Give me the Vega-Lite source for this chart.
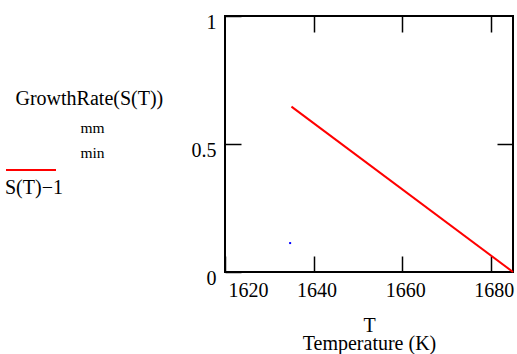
{
  "$schema": "https://vega.github.io/schema/vega-lite/v6.json",
  "width": 288,
  "height": 256,
  "autosize": "none",
  "padding": {"left": 225, "top": 16, "right": 4, "bottom": 82},
  "config": {
    "view": {"stroke": "black", "strokeWidth": 2},
    "font": "Liberation Serif, Times New Roman, serif",
    "axis": {
      "grid": false,
      "domain": false,
      "tickColor": "black",
      "tickWidth": 1.5,
      "tickSize": -16,
      "labelFont": "Liberation Serif, Times New Roman, serif",
      "labelFontSize": 20,
      "labelColor": "black",
      "titleFont": "Liberation Serif, Times New Roman, serif",
      "titleFontWeight": "normal",
      "titleColor": "black"
    }
  },
  "datasets": {
    "growth": [{"T": 1635, "rate": 0.646}, {"T": 1685, "rate": 0}],
    "s": [{"T": 1634.7, "v": 0.113}]
  },
  "resolve": {"axis": {"x": "independent", "y": "independent"}},
  "layer": [
    {
      "data": {"name": "growth"},
      "mark": {"type": "line", "strokeWidth": 2},
      "encoding": {
        "x": {
          "field": "T", "type": "quantitative",
          "scale": {"domain": [1620, 1685], "nice": false, "zero": false},
          "axis": {
            "orient": "bottom", "values": [1620, 1640, 1660, 1680], "format": "d",
            "labelPadding": 24, "labelOffset": 3, "labelBaseline": "top",
            "title": ["T", "Temperature (K)"], "titleFontSize": 20, "titleLineHeight": 18,
            "titleBaseline": "alphabetic", "titleY": 59
          }
        },
        "y": {
          "field": "rate", "type": "quantitative",
          "scale": {"domain": [0, 1], "nice": false},
          "axis": {
            "orient": "left", "values": [0, 0.5, 1], "format": "~g",
            "labelBaseline": "top", "labelOffset": -3.5, "labelPadding": 25, "labelAlign": "right",
            "title": "GrowthRate(S(T))", "titleAngle": 0, "titleAlign": "left", "titleBaseline": "alphabetic",
            "titleX": -210, "titleY": 88, "titleFontSize": 20
          }
        },
        "color": {
          "datum": "S(T)−1", "type": "nominal",
          "scale": {"range": ["#ff0000"]},
          "legend": {
            "orient": "none", "legendX": -220, "legendY": 128, "padding": 0,
            "title": "S(T)−1", "titleOrient": "bottom", "titlePadding": 4, "titleBaseline": "top",
            "titleFont": "Liberation Serif, Times New Roman, serif", "titleFontSize": 20,
            "titleFontWeight": "normal", "titleColor": "black", "titleLimit": 200,
            "symbolType": "stroke", "symbolSize": 2500, "symbolStrokeWidth": 2,
            "labelExpr": "''", "labelFontSize": 1
          }
        }
      }
    },
    {
      "data": {"name": "s"},
      "mark": {"type": "square", "size": 4, "color": "#0000ff", "opacity": 1},
      "encoding": {
        "x": {
          "field": "T", "type": "quantitative",
          "axis": {"orient": "top", "values": [1640, 1660, 1680], "labels": false, "title": null}
        },
        "y": {
          "field": "v", "type": "quantitative",
          "axis": {
            "orient": "right", "values": [0.5], "labels": false,
            "title": ["mm", "min"], "titleAngle": 0, "titleAlign": "left", "titleBaseline": "alphabetic",
            "titleX": -433, "titleY": 116, "titleFontSize": 15.5, "titleLineHeight": 25
          }
        }
      }
    }
  ]
}
